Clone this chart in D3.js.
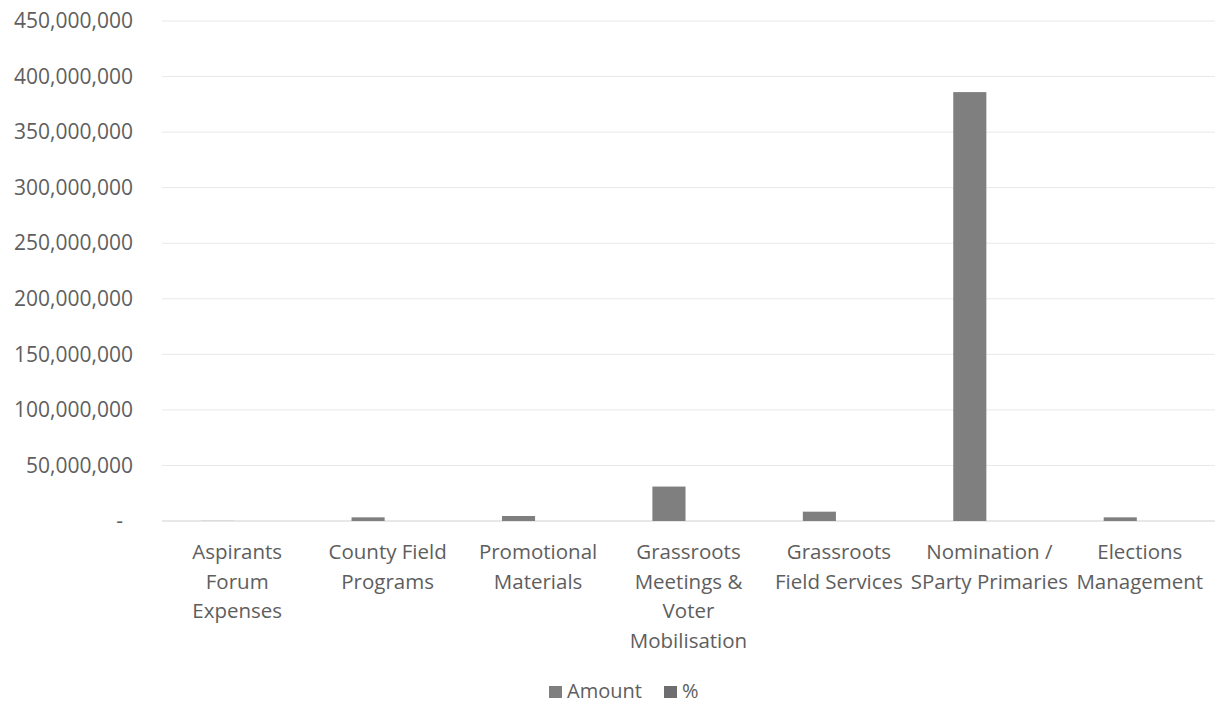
<!DOCTYPE html>
<html>
<head>
<meta charset="utf-8">
<script src="https://cdn.jsdelivr.net/npm/d3@7"></script>
<style>
html,body{margin:0;padding:0;background:#fff;}
svg{display:block;}
text{font-family:"Open Sans","Noto Sans",sans-serif;fill:#5e5e5e;}
</style>
</head>
<body>
<svg id="chart" width="1218" height="704"></svg>
<script>
const categories = [
  "Aspirants\nForum\nExpenses",
  "County Field\nPrograms",
  "Promotional\nMaterials",
  "Grassroots\nMeetings &\nVoter\nMobilisation",
  "Grassroots\nField Services",
  "Nomination /\nSParty Primaries",
  "Elections\nManagement"
];
const seriesNames = ["Amount", "%"];
const amountValues = [100000, 3300000, 4500000, 31000000, 8400000, 386000000, 3300000];
const percentValues = [0.02, 0.76, 1.03, 7.1, 1.92, 88.4, 0.76];
const yTicks = [0, 50000000, 100000000, 150000000, 200000000, 250000000, 300000000, 350000000, 400000000, 450000000];

const svg = d3.select("#chart");
const margin = {left: 162, right: 3, top: 21, bottom: 183};
const W = 1218, H = 704;

const x0 = d3.scaleBand().domain(categories).range([margin.left, W - margin.right]).paddingInner(0.56).paddingOuter(0.28);
const x1 = d3.scaleBand().domain(seriesNames).range([-3, x0.bandwidth() - 3]);
const y = d3.scaleLinear().domain([0, 450000000]).range([H - margin.bottom, margin.top]);

// gridlines
svg.append("g").selectAll("line").data(yTicks).join("line")
  .attr("x1", margin.left).attr("x2", W - margin.right)
  .attr("y1", d => y(d)).attr("y2", d => y(d))
  .attr("stroke", d => d === 0 ? "#d0d0d0" : "#e8e8e8").attr("stroke-width", 1);

// y axis
const fmt = d3.format(",");
const yAxis = d3.axisLeft(y).tickValues(yTicks).tickSize(0).tickPadding(0)
  .tickFormat(d => d === 0 ? "-" : fmt(d));
const gy = svg.append("g").attr("transform", `translate(133,0)`).call(yAxis);
gy.select(".domain").remove();
gy.selectAll("text").style("font-size", "21px").style("font-family", '"Open Sans","Noto Sans",sans-serif').attr("fill", "#5e5e5e")
  .attr("dx", d => d === 0 ? "-10px" : 0);

const data = categories.map((c, i) => ({cat: c, vals: [
  {key: "Amount", v: amountValues[i]},
  {key: "%", v: percentValues[i]}
]}));

const colors = {"Amount": "#7f7f80", "%": "#6e6e70"};

svg.append("g").selectAll("g").data(data).join("g")
  .attr("transform", d => `translate(${x0(d.cat)},0)`)
  .selectAll("rect").data(d => d.vals).join("rect")
  .attr("x", d => x1(d.key)).attr("width", x1.bandwidth())
  .attr("y", d => y(d.v)).attr("height", d => y(0) - y(d.v))
  .attr("fill", d => colors[d.key]);

// x labels
const xl = svg.append("g");
categories.forEach(c => {
  const cx = x0(c) + x0.bandwidth() / 2;
  const t = xl.append("text").attr("text-anchor", "middle").style("font-size", "20.5px");
  c.split("\n").forEach((ln, j) => {
    t.append("tspan").attr("x", cx).attr("y", 559 + j * 29.5).text(ln);
  });
});

// legend
const lg = svg.append("g");
const legendItems = [{k: "Amount", x: 549}, {k: "%", x: 664}];
legendItems.forEach(it => {
  lg.append("rect").attr("x", it.x).attr("y", 686).attr("width", 13).attr("height", 12).attr("fill", colors[it.k]);
  lg.append("text").attr("x", it.x + 18).attr("y", 698).style("font-size", "20px").text(it.k);
});
</script>
</body>
</html>
